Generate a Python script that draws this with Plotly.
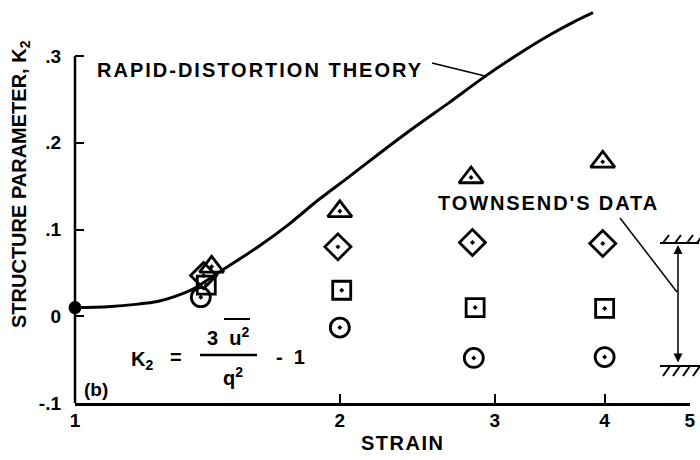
import plotly.graph_objects as go

# rapid-distortion theory curve (strain, K2)
theory_strain = [1.0, 1.09, 1.18, 1.24, 1.30, 1.36, 1.42, 1.47, 1.62, 1.75, 1.89, 2.05, 2.22, 2.44, 2.66, 2.92, 3.20, 3.46, 3.70, 3.88]
theory_k2 = [0.010, 0.011, 0.014, 0.017, 0.023, 0.031, 0.043, 0.053, 0.081, 0.106, 0.134, 0.161, 0.188, 0.219, 0.246, 0.276, 0.303, 0.324, 0.340, 0.350]

# Townsend's data, four symbols
tri_strain = [1.43, 2.00, 2.82, 3.98]
tri_k2 = [0.057, 0.121, 0.160, 0.178]
dia_strain = [1.40, 1.99, 2.83, 3.98]
dia_k2 = [0.047, 0.080, 0.085, 0.084]
sq_strain = [1.41, 2.01, 2.85, 4.00]
sq_k2 = [0.036, 0.030, 0.010, 0.009]
circ_strain = [1.39, 2.00, 2.84, 4.00]
circ_k2 = [0.022, -0.013, -0.048, -0.047]

start_strain = [1.0]
start_k2 = [0.010]

x_ticks = [1, 2, 3, 4, 5]
x_labels = ["1", "2", "3", "4", "5"]
y_ticks = [-0.1, 0, 0.1, 0.2, 0.3]
y_labels = ["-.1", "0", ".1", ".2", ".3"]

FONT = "Liberation Sans"
INK = "black"

# plot area in pixels, used to place the drawn notes
L, R, T, B = 75, 690, 4, 403


def px(x, y):
    return (x - L) / (R - L), (B - y) / (B - T)


def sp(s, ls=1.5):
    return '<span style="letter-spacing:%spx">%s</span>' % (ls, s)


fig = go.Figure()

fig.add_trace(go.Scatter(x=theory_strain, y=theory_k2, mode="lines",
                         line=dict(color=INK, width=3, shape="spline", smoothing=0.8),
                         cliponaxis=False, hoverinfo="skip"))

for xs, ys, sym, size in [(tri_strain, tri_k2, "triangle-up-open-dot", 21),
                          (dia_strain, dia_k2, "diamond-open-dot", 20),
                          (sq_strain, sq_k2, "square-open-dot", 18),
                          (circ_strain, circ_k2, "circle-open-dot", 19)]:
    fig.add_trace(go.Scatter(x=xs, y=ys, mode="markers", cliponaxis=False,
                             marker=dict(symbol=sym, size=size, color=INK,
                                         line=dict(color=INK, width=2.8))))

fig.add_trace(go.Scatter(x=start_strain, y=start_k2, mode="markers", cliponaxis=False,
                         marker=dict(symbol="circle", size=13, color=INK)))

shapes = []
# left axis only runs from -.1 to .3
shapes.append(dict(type="line", xref="paper", yref="y", x0=0, x1=0,
                   y0=y_ticks[0], y1=y_ticks[-1], line=dict(color=INK, width=2.5)))


def seg(x0, y0, x1, y1, w=1.5):
    a, b = px(x0, y0)
    c, d = px(x1, y1)
    shapes.append(dict(type="line", xref="paper", yref="paper",
                       x0=a, y0=b, x1=c, y1=d, line=dict(color=INK, width=w)))


# leader lines
seg(432, 63, 485, 76)
seg(620, 218, 677, 292)
# fraction bar and overline in the formula
seg(200, 355, 257, 355, 2.5)
seg(224, 319, 250, 319, 2)
# hatched walls
seg(660, 243, 699, 243, 2)
for hx in [663, 675, 687, 697]:
    seg(hx, 243, hx + 6, 235, 2)
seg(660, 366, 700, 366, 2)
for hx in [670, 680, 690, 700]:
    seg(hx - 7, 376, hx, 366, 2)

ann = []


def note(text, x, y, size=20, xanchor="center", angle=0):
    a, b = px(x, y)
    ann.append(dict(text=text, x=a, y=b, xref="paper", yref="paper", showarrow=False,
                    xanchor=xanchor, yanchor="middle", textangle=angle,
                    font=dict(family=FONT, size=size, color=INK, weight="bold")))


note(sp("RAPID-DISTORTION THEORY", 2), 95, 70, xanchor="left")
note(sp("TOWNSEND'S DATA", 1.9), 436, 203, xanchor="left")
note(sp("STRAIN", 1.5), 402, 443)
note("STRUCTURE PARAMETER, K<sub>2</sub>", 20, 184, angle=-90)
note("K<sub>2</sub>", 142, 360)
note("=", 176, 357)
note("3  u<sup>2</sup>", 228, 336)
note("q<sup>2</sup>", 233, 376)
note("-  1", 290, 357)
note("(b)", 96, 389, size=19)

# double-headed arrow between the walls
a, b = px(678, 245)
c, d = px(678, 364)
ann.append(dict(text="", x=a, y=b, ax=c, ay=d, xref="x domain", yref="y domain",
                axref="x domain", ayref="y domain", showarrow=True,
                arrowhead=2, startarrowhead=2, arrowside="end+start",
                arrowsize=1.2, arrowwidth=1.5, arrowcolor=INK, standoff=0, startstandoff=0))

fig.update_layout(
    width=700, height=460,
    margin=dict(l=L, r=700 - R, t=T, b=460 - B),
    paper_bgcolor="white", plot_bgcolor="white",
    showlegend=False,
    shapes=shapes, annotations=ann,
    font=dict(family=FONT, size=19, color=INK, weight="bold"),
    xaxis=dict(type="log", range=[0, 0.6991], tickvals=x_ticks, ticktext=x_labels,
               ticks="inside", ticklen=9, tickwidth=2, tickcolor=INK,
               showline=True, linecolor=INK, linewidth=2.5, showgrid=False, zeroline=False,
               ticklabelstandoff=-2, ticklabeloverflow="allow"),
    yaxis=dict(range=[-0.1, 0.36], tickvals=y_ticks, ticktext=y_labels,
               ticks="inside", ticklen=9, tickwidth=2, tickcolor=INK,
               showline=False, showgrid=False, zeroline=False,
               ticklabelstandoff=13),
)

# the page's default body margin would push the 700px figure off the window
fig.write_html("out.html", config={"displayModeBar": False},
               post_script="document.body.style.margin='0';")
